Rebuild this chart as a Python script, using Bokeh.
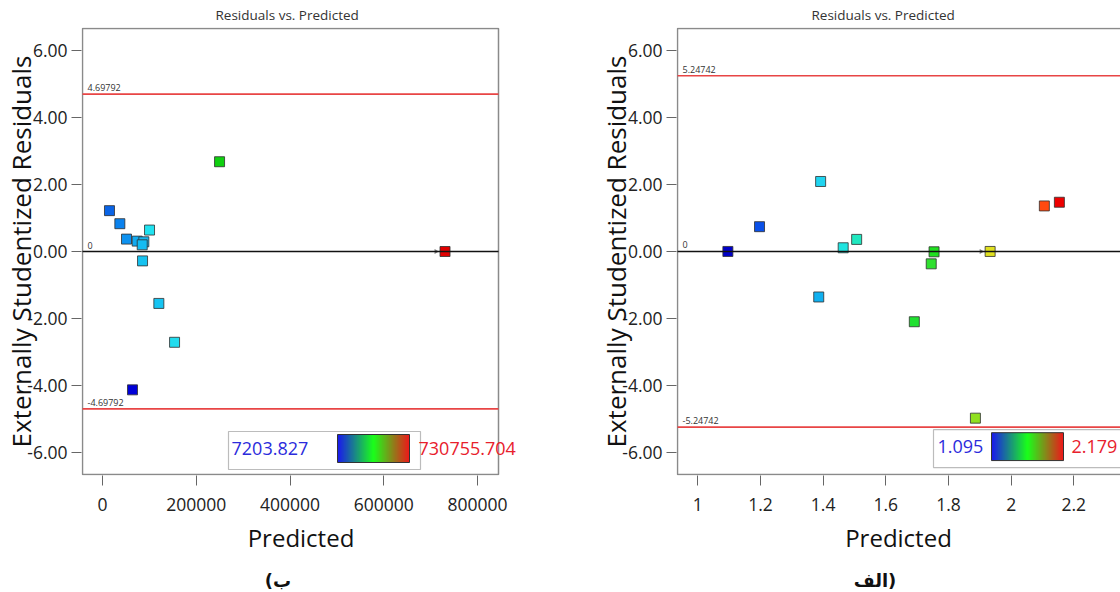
from bokeh.plotting import figure
from bokeh.layouts import row, column
from bokeh.models import (Label, Title, FixedTicker, PrintfTickFormatter,
                          BasicTickFormatter, Range1d)
from bokeh.core.properties import value
from bokeh.embed import file_html
from bokeh.resources import INLINE

# ---------------- data ----------------
# panel "ب" (left)
left_pred = [14900, 37000, 51200, 74000, 88200, 84700, 100300, 85400, 120200, 153700, 64000, 249700, 730700]
left_resid = [1.22, 0.83, 0.37, 0.31, 0.29, 0.20, 0.64, -0.28, -1.55, -2.71, -4.13, 2.68, 0.00]
left_colors = ["#0a64e6", "#0a82ee", "#0e92f0", "#12aaf0", "#16b6f0", "#14bcf2", "#20e2f0",
               "#16c2f0", "#16c4f2", "#22dcee", "#0000d8", "#10d010", "#e00000"]
left_limit = 4.69792
left_range_lo, left_range_hi = "7203.827", "730755.704"
left_xticks = [0, 200000, 400000, 600000, 800000]
left_arrow_idx = 12
left_caption = "(ب"

# panel "الف" (right)
right_pred = [1.096, 1.197, 1.392, 1.464, 1.507, 1.386, 1.754, 1.745, 1.691, 1.933, 1.886, 2.106, 2.154]
right_resid = [0.00, 0.74, 2.09, 0.11, 0.36, -1.36, -0.01, -0.37, -2.10, 0.00, -4.98, 1.36, 1.47]
right_colors = ["#0000c8", "#0a50e8", "#20d4f0", "#20e4e0", "#20e8c0", "#10b0f0", "#20e020",
                "#30e030", "#20e030", "#e0e020", "#90e020", "#ff4a10", "#ee0000"]
right_limit = 5.24742
right_range_lo, right_range_hi = "1.095", "2.179"
right_xticks = [1, 1.2, 1.4, 1.6, 1.8, 2, 2.2]
right_xlabels = ["1", "1.2", "1.4", "1.6", "1.8", "2", "2.2"]
right_arrow_idx = 9
right_caption = "الف)"

y_ticks = [-6, -4, -2, 0, 2, 4, 6]

FONT = "Open Sans"
TITLE = "Residuals vs. Predicted"
XLAB = "Predicted"
YLAB = "Externally Studentized Residuals"
MAIN_H = 565
CAP_H = 592 - MAIN_H


def grad_color(t):
    if t <= 0.5:
        s = t / 0.5
        r, g, b = 0, 255 * s, 235 * (1 - s)
    else:
        s = (t - 0.5) / 0.5
        r, g, b = 235 * s, 255 * (1 - s), 0
    return "#%02x%02x%02x" % (int(r), int(g), int(b))


def make_panel(pred, resid, colors, limit, lo_txt, hi_txt, xticks, xlabels,
               page_x0, frame, border, xanchor, yanchor,
               legend_px, arrow_idx, title_off):
    fl, ft, fr, fb = frame            # frame box in page pixels
    bl, bt, br, bb = border           # visible border box in page pixels
    v0, p0, v1, p1 = xanchor
    kx = (v1 - v0) / (p1 - p0)
    w0, q0, w1, q1 = yanchor
    ky = (w1 - w0) / (q1 - q0)

    def dx(px):
        return v0 + (px - p0) * kx

    def dy(py):
        return w0 + (py - q0) * ky

    xr = (dx(fl), dx(fr))
    yr = (dy(fb), dy(ft))
    p = figure(width=560, height=MAIN_H, output_backend="svg", toolbar_location=None,
               x_range=Range1d(*xr), y_range=Range1d(*yr),
               min_border_left=fl - page_x0, min_border_right=page_x0 + 560 - fr,
               min_border_top=ft, min_border_bottom=MAIN_H - fb,
               background_fill_color="white", border_fill_color="white")
    p.title = Title(text=TITLE, align="left", offset=title_off,
                    text_font=FONT, text_font_size="13.5px", text_font_style="normal",
                    text_color="#333333", standoff=7)
    p.grid.visible = False
    p.outline_line_color = None

    for ax in (p.xaxis[0], p.yaxis[0]):
        ax.axis_line_color = None
        ax.major_tick_line_color = "#666666"
        ax.major_tick_in = 0
        ax.major_tick_out = 10
        ax.minor_tick_line_color = None
        ax.major_label_text_font = FONT
        ax.major_label_text_font_size = "17.5px"
        ax.major_label_text_color = "#222222"
        ax.axis_label_text_font = FONT
        ax.axis_label_text_font_style = "normal"
        ax.axis_label_text_color = "#111111"

    p.xaxis[0].ticker = FixedTicker(ticks=xticks)
    if xlabels is None:
        p.xaxis[0].formatter = BasicTickFormatter(use_scientific=False)
    else:
        p.xaxis[0].major_label_overrides = {t: l for t, l in zip(xticks, xlabels)}
    p.xaxis[0].major_label_standoff = 12
    p.xaxis[0].axis_label = XLAB
    p.xaxis[0].axis_label_text_font_size = "24px"
    p.xaxis[0].axis_label_standoff = 7

    p.yaxis[0].ticker = FixedTicker(ticks=y_ticks)
    p.yaxis[0].formatter = PrintfTickFormatter(format="%.2f")
    p.yaxis[0].major_label_standoff = 4
    p.yaxis[0].axis_label = YLAB
    p.yaxis[0].axis_label_text_font_size = "26px"
    p.yaxis[0].axis_label_standoff = -15

    # visible plot border
    p.quad(left=[dx(bl)], right=[dx(br)], top=[dy(bt)], bottom=[dy(bb)],
           fill_color=None, line_color="#8a8a8a", line_width=1.5)

    # points
    p.scatter(pred, resid, marker="square", size=10, fill_color=colors,
              line_color="#303030", line_alpha=0.8, line_width=1)

    # small pointer arrow
    p.scatter([pred[arrow_idx] - 9 * kx], [resid[arrow_idx]],
              marker="triangle", angle=-1.5708, size=5, fill_color="#777777", line_color=None)

    # limit and zero lines
    xa, xb = dx(bl), dx(br)
    p.segment(x0=[xa, xa], x1=[xb, xb], y0=[limit, -limit], y1=[limit, -limit],
              line_color="#e84545", line_width=1.6)
    p.segment(x0=[xa], x1=[xb], y0=[0], y1=[0], line_color="#111111", line_width=1.5)
    lx = dx(bl + 5)
    for v, t in ((limit, "%g" % limit), (-limit, "%g" % -limit), (0, "0")):
        p.add_layout(Label(x=lx, y=v, text=t, y_offset=3, text_baseline="bottom",
                           text_font=FONT, text_font_size="9px", text_color="#333333"))

    # colour legend
    bx0, bx1, by0, by1, gx0, gx1, gy0, gy1, t1x, t2x = legend_px
    p.quad(left=[dx(bx0)], right=[dx(bx1)], top=[dy(by0)], bottom=[dy(by1)],
           fill_color="white", line_color="#bcbcbc", line_width=1.2)
    n = 72
    L, R = dx(gx0), dx(gx1)
    w = (R - L) / n
    lefts = [L + i * w for i in range(n)]
    rights = [L + (i + 1) * w + w * 0.3 for i in range(n)]
    rights[-1] = R
    cols = [grad_color(i / (n - 1)) for i in range(n)]
    p.quad(left=lefts, right=rights, top=dy(gy0), bottom=dy(gy1), fill_color=cols, line_color=None)
    p.quad(left=[L], right=[R], top=[dy(gy0)], bottom=[dy(gy1)], fill_color=None,
           line_color="#333333", line_width=1)
    ym = dy((gy0 + gy1) / 2)
    p.add_layout(Label(x=dx(t1x), y=ym, text=lo_txt, text_baseline="middle", text_font=FONT,
                       text_font_size="18px", text_color="#2b2bdc"))
    p.add_layout(Label(x=dx(t2x), y=ym, text=hi_txt, text_baseline="middle", text_font=FONT,
                       text_font_size="18px", text_color="#e8202c"))
    return p


def make_caption(text, center_x):
    c = figure(width=560, height=CAP_H, output_backend="svg", toolbar_location=None,
               x_range=Range1d(0, 560), y_range=Range1d(0, CAP_H),
               min_border=0, min_border_left=0, min_border_right=0,
               min_border_top=0, min_border_bottom=0)
    c.axis.visible = False
    c.grid.visible = False
    c.outline_line_color = None
    c.text(x=[center_x], y=[CAP_H - 15], text=[text], text_align="center",
           text_baseline="middle", text_font=value("DejaVu Sans"), text_font_size="18px",
           text_font_style="bold", text_color="#111111")
    return c


p1 = make_panel(left_pred, left_resid, left_colors, left_limit, left_range_lo, left_range_hi,
                left_xticks, None, 0,
                (81, 27, 520, 475), (82, 28, 498, 474),
                (0, 102, 800000, 477), (6, 50, -6, 452),
                (228, 420, 431, 469, 337, 409, 434, 462, 231, 418), left_arrow_idx, 134)
p2 = make_panel(right_pred, right_resid, right_colors, right_limit, right_range_lo, right_range_hi,
                right_xticks, right_xlabels, 560,
                (676, 27, 1120, 477), (677, 28, 1135, 476),
                (1, 697.3, 2.2, 1073.3), (6, 50.2, -6, 453.7),
                (933, 1135, 431, 469, 991, 1063, 434, 462, 937, 1071), right_arrow_idx, 135)
c1 = make_caption(left_caption, 277.5)
c2 = make_caption(right_caption, 874.5 - 560)

layout = column(row(p1, p2), row(c1, c2))
open("out.html", "w").write(file_html(layout, INLINE))
